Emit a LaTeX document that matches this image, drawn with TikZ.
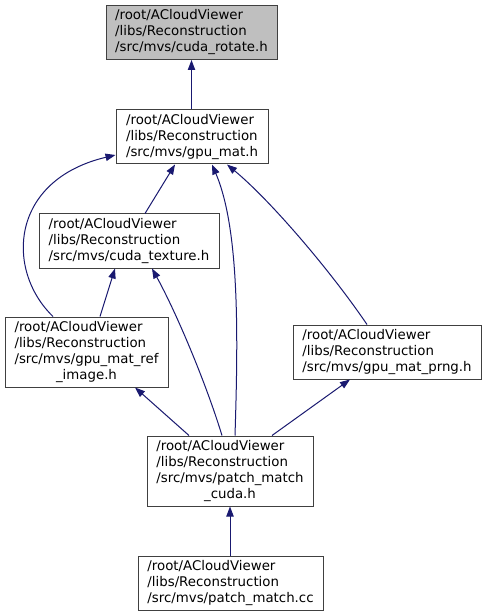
\documentclass[tikz,border=0pt]{standalone}
\usepackage{fontspec}
\setmainfont{DejaVu Sans}
\usetikzlibrary{arrows.meta,calc}
\definecolor{edgecol}{HTML}{191970}
\definecolor{boxline}{HTML}{404040}
\definecolor{grayfill}{HTML}{BFBFBF}
\newcommand{\dgl}[1]{\begin{tabular}{@{}l@{}}#1\end{tabular}}
\newcommand{\dgc}[1]{\multicolumn{1}{@{}c@{}}{#1}}
\begin{document}
\begin{tikzpicture}[x=0.75pt,y=-0.75pt,
  box/.style 2 args={draw=boxline, line width=0.75pt, fill=white, inner sep=0pt,
    minimum width=#1*0.75pt, minimum height=#2*0.75pt,
    font=\fontsize{10}{12}\selectfont},
  edge/.style={draw=edgecol, line width=0.75pt, -{Triangle[length=7.5pt,width=5.5pt]}}]
\fill[white] (0,0) rectangle (485,616);
\path[use as bounding box] (0,0) rectangle (485,616);

\node[box={171}{54}, fill=grayfill] (rot) at (191.5,32.5)
  {\dgl{/root/ACloudViewer\\/libs/Reconstruction\\/src/mvs/cuda\_rotate.h}};
\node[box={152}{54}] (gm) at (192,137)
  {\dgl{/root/ACloudViewer\\/libs/Reconstruction\\/src/mvs/gpu\_mat.h}};
\node[box={180}{54}] (ct) at (129,241)
  {\dgl{/root/ACloudViewer\\/libs/Reconstruction\\/src/mvs/cuda\_texture.h}};
\node[box={163}{70}] (ri) at (86.5,352)
  {\dgl{/root/ACloudViewer\\/libs/Reconstruction\\/src/mvs/gpu\_mat\_ref\\\dgc{\_image.h}}};
\node[box={188}{54}] (pr) at (387,352)
  {\dgl{/root/ACloudViewer\\/libs/Reconstruction\\/src/mvs/gpu\_mat\_prng.h}};
\node[box={166}{70}] (pc) at (230,471)
  {\dgl{/root/ACloudViewer\\/libs/Reconstruction\\/src/mvs/patch\_match\\\dgc{\_cuda.h}}};
\node[box={185}{54}] (pm) at (230.5,583)
  {\dgl{/root/ACloudViewer\\/libs/Reconstruction\\/src/mvs/patch\_match.cc}};

% edges (arrow tip at the included file)
\draw[edge] (gm.north -| rot.south) -- (rot.south);
\draw[edge] ($(ct.north)+(16,0)$) -- ($(gm.south)+(-17,0)$);
\draw[edge] ($(pc.north)+(5,0)$) .. controls (238,340) and (240,230) .. ($(gm.south)+(20,0)$);
\draw[edge] ($(pr.north)+(-20,0)$) .. controls (330,270) and (270,200) .. ($(gm.south)+(35,0)$);
\draw[edge] ($(ri.north)+(-33.5,0)$) .. controls (5,270) and (10,180) .. ($(gm.west)+(0,18)$);
\draw[edge] ($(ri.north)+(13.5,0)$) -- ($(ct.south)+(-14,0)$);
\draw[edge] ($(pc.north)+(-8,0)$) .. controls (205,380) and (175,310) .. ($(ct.south)+(23,0)$);
\draw[edge] ($(pc.north)+(-41,0)$) -- ($(ri.south)+(48.5,0)$);
\draw[edge] ($(pc.north)+(42,0)$) -- ($(pr.south)+(-37,0)$);
\draw[edge] (pm.north -| pc.south) -- (pc.south);
\end{tikzpicture}
\end{document}
